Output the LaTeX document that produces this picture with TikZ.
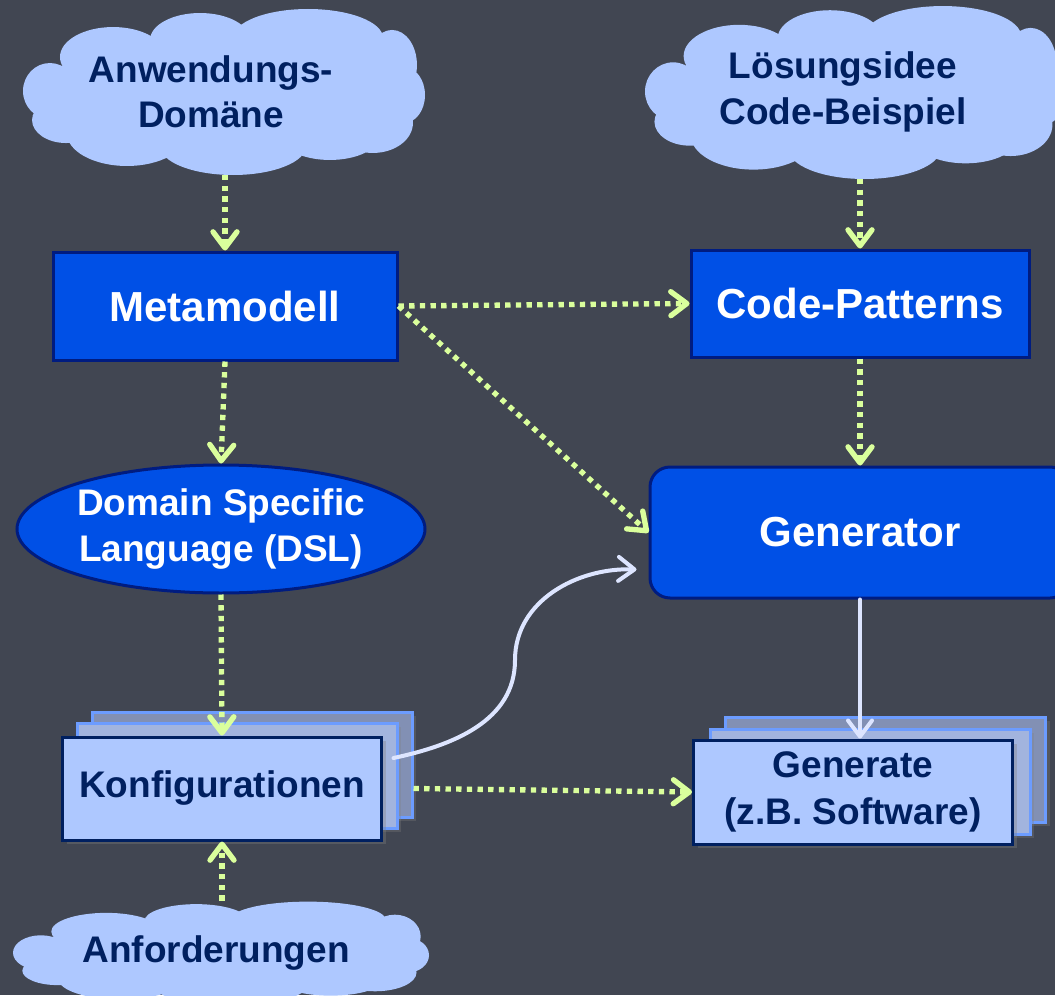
\documentclass[tikz,border=0pt]{standalone}
\usepackage{fontspec}
\setmainfont{Liberation Sans}
\usetikzlibrary{shapes.geometric,arrows.meta,shadows,calc}

\definecolor{bg}{HTML}{414652}
\definecolor{boxblue}{HTML}{0050E6}
\definecolor{boxedge}{HTML}{001C80}
\definecolor{pale}{HTML}{AEC8FF}
\definecolor{navy}{HTML}{002060}
\definecolor{lime}{HTML}{DAFF9C}
\definecolor{flow}{HTML}{DDE5FF}
\definecolor{stackedge}{HTML}{6C9CFF}
\definecolor{stackmid}{HTML}{A2B4DE}
\definecolor{stackback}{HTML}{8290B4}

% a cloud made of overlapping puffs: centre x, centre y, half width, half height
\newcommand\puffcloud[4]{%
  \fill[pale] \foreach \a/\b/\c/\d in {
      -0.552/-0.413/0.264/0.359, -0.119/-0.617/0.249/0.323,
       0.418/-0.641/0.373/0.347,  0.836/-0.318/0.124/0.419,
       0.660/-0.400/0.200/0.330,
       0.896/0.042/0.104/0.335,   0.741/0.377/0.199/0.359,
       0.045/0.653/0.363/0.347,  -0.483/0.497/0.299/0.395,
      -0.866/-0.006/0.134/0.335, -0.786/0.342/0.169/0.275,
       0.527/0.521/0.249/0.299,   0/0/0.846/0.719}
    {({#1+\a*#3},{#2+\b*#4}) ellipse [x radius={\c*#3*0.75pt}, y radius={\d*#4*0.75pt}]};
}

\begin{document}
\begin{tikzpicture}[x=0.75pt,y=-0.75pt,
  bigtext/.style={font=\fontsize{31.5}{37}\selectfont\bfseries},
  midtext/.style={font=\fontsize{27.75}{34}\selectfont\bfseries},
  cloudtext/.style={rectangle, text=navy, align=center, midtext, inner sep=0pt},
  bluebox/.style={rectangle, fill=boxblue, draw=boxedge, line width=2.25pt,
    text=white, bigtext, inner sep=0pt},
  lightbox/.style={rectangle, fill=pale, draw=navy, line width=2.25pt,
    text=navy, midtext, align=center, inner sep=0pt,
    minimum width=239.25pt, minimum height=77.25pt,
    drop shadow={shadow xshift=3pt, shadow yshift=-3pt, opacity=0.35}},
  midsheet/.style={rectangle, fill=stackmid, draw=stackedge, line width=2.25pt,
    minimum width=240pt, minimum height=78.75pt, inner sep=0pt,
    drop shadow={shadow xshift=3pt, shadow yshift=-3pt, opacity=0.3}},
  backsheet/.style={midsheet, fill=stackback},
  tip/.style={-{Straight Barb[length=12pt,width=18pt,line cap=round,line join=round]}},
  hint/.style={tip, draw=lime, line width=4pt, dash pattern=on 4pt off 4pt},
  feed/.style={tip, draw=flow, line width=3pt, line cap=round}
]
% canvas
\useasboundingbox[fill=bg] (0,0) rectangle (1055,995);

% clouds
\puffcloud{224}{91.5}{201}{83.5}
\node[cloudtext, minimum height=125pt] (domain) at (211,91.5) {Anwendungs-\\Domäne};
\puffcloud{855}{92}{210}{87}
\node[cloudtext, minimum height=130pt] (idea) at (843,92) {Lösungsidee\\Code-Beispiel};
\puffcloud{221}{953}{208}{52}
\node[cloudtext, minimum height=78pt] (req) at (216,953) {Anforderungen};

% main blocks
\node[bluebox, minimum width=258pt, minimum height=81pt] (meta) at (225,306) {Metamodell};
\node[bluebox, minimum width=253.5pt, minimum height=80.25pt] (pat) at (860,303.5) {Code-Patterns};
\node[bluebox, rounded corners=15pt, minimum width=315pt, minimum height=98.25pt] (gen) at (860,532.5) {Generator};
\node[ellipse, fill=boxblue, draw=boxedge, line width=2.25pt, text=white, midtext,
  align=center, inner sep=0pt, minimum width=306pt, minimum height=96pt] (dsl) at (221,529)
  {Domain Specific\\Language (DSL)};

% stacked configuration sheets
\node[backsheet] (conf3) at (252,764.5) {};
\node[midsheet] (conf2) at (237,775.5) {};
\node[lightbox] (conf) at (222,788.5) {Konfigurationen};

% stacked output sheets
\node[backsheet] (out3) at (885.5,769.5) {};
\node[midsheet] (out2) at (870,781.5) {};
\node[lightbox, minimum height=78pt, font=\fontsize{27.75}{35}\selectfont\bfseries] (out) at (853,792)
  {Generate\\(z.B. Software)};

% dotted dependency arrows
\draw[hint] (meta.north |- domain.south) -- (meta.north);
\draw[hint] (pat.north |- idea.south) -- (pat.north);
\draw[hint] (meta.east) -- (pat.west);
\draw[hint] (meta.east) -- (gen.west);
\draw[hint] (meta.south) -- (dsl.north);
\draw[hint] (pat.south) -- (gen.north);
\draw[hint] (dsl.south) -- (conf.north);
\draw[hint] (conf.south |- req.north) -- (conf.south);
\draw[hint] (conf3.east |- conf.east) -- (out.west);

% data flow
\draw[feed] (gen.south) -- (gen.south |- out.north);
\coordinate (confout) at ($(conf2.east)+(-5,-17.5)$);
\coordinate (bend) at (515,660);
\coordinate (genin) at ($(gen.west)+(-12,37)$);
\draw[feed] (confout) to[out=12,in=-90] (bend) to[out=90,in=178] (genin);
\end{tikzpicture}
\end{document}
